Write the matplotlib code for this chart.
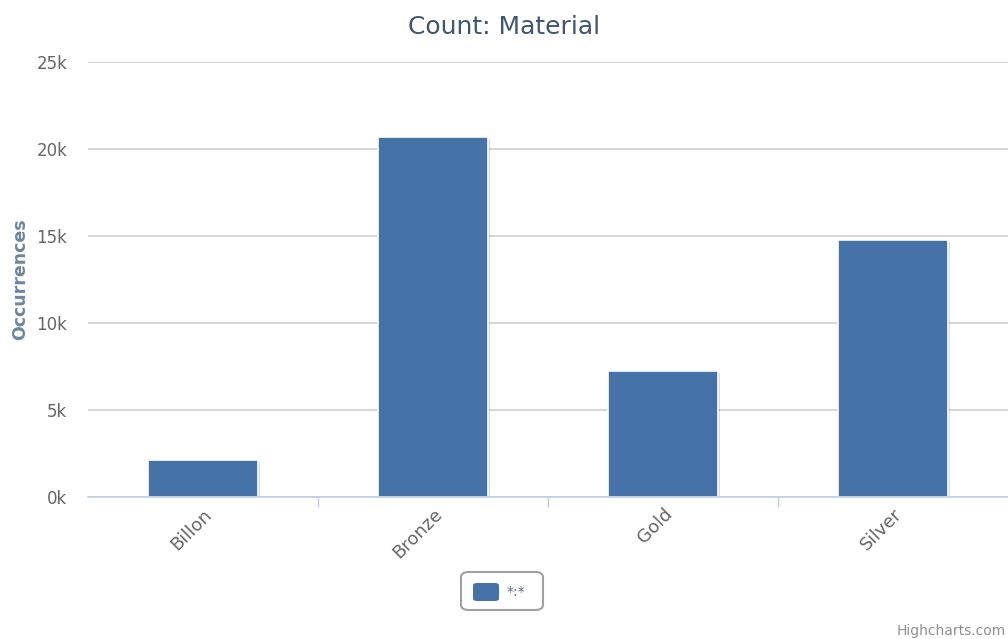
import matplotlib.pyplot as plt
import matplotlib.patheffects as pe
from matplotlib.patches import FancyBboxPatch
from matplotlib.ticker import FuncFormatter, FixedLocator

categories = ["Billon", "Bronze", "Gold", "Silver"]
counts = [2150, 20700, 7250, 14750]
series_name = "*:*"

fig = plt.figure(figsize=(10.08, 6.39), dpi=100)
ax = fig.add_axes([88 / 1008, 1 - 497 / 639, 920 / 1008, 435 / 639])

x = list(range(len(categories)))
bars = ax.bar(x, counts, width=0.48, color="#4572A7", edgecolor="white", linewidth=1.2, zorder=3)
for b in bars:
    b.set_path_effects([pe.SimplePatchShadow(offset=(1.5, -1.5), shadow_rgbFace="black", alpha=0.15), pe.Normal()])

ax.set_xlim(-0.5, len(categories) - 0.5)
ax.set_ylim(0, 25000)
ax.set_yticks(range(0, 25001, 5000))
ax.yaxis.set_major_formatter(FuncFormatter(lambda v, p: f"{int(v / 1000)}k"))
ax.grid(axis="y", color="#D0D0D0", linewidth=1.2, zorder=0)

for s in ["top", "right", "left"]:
    ax.spines[s].set_visible(False)
ax.spines["bottom"].set_color("#C0D0E0")
ax.spines["bottom"].set_linewidth(1.2)
ax.spines["bottom"].set_zorder(4)

ax.tick_params(axis="y", length=0, pad=15, labelsize=12, labelcolor="#666666")
ax.set_xticks(x)
ax.set_xticklabels(categories, rotation=45, ha="right", rotation_mode="anchor", fontsize=13, color="#666666")
ax.tick_params(axis="x", which="major", length=0, pad=6)
ax.xaxis.set_minor_locator(FixedLocator([0.5, 1.5, 2.5]))
ax.tick_params(axis="x", which="minor", length=7, color="#C0D0E0", width=1)

ax.set_ylabel("Occurrences", fontsize=12.5, fontweight="bold", color="#6D869F", labelpad=5)
fig.text(0.5, 1 - 27 / 639, "Count: Material", ha="center", va="center", fontsize=18, color="#3E576F")

# legend box
fig.patches.append(FancyBboxPatch((461 / 1008, 1 - 610 / 639), 82 / 1008, 38 / 639,
                                  boxstyle="round,pad=0,rounding_size=0.008", transform=fig.transFigure,
                                  facecolor="white", edgecolor="#A0A0A0", linewidth=1.5))
fig.patches.append(FancyBboxPatch((473 / 1008, 1 - 601 / 639), 26 / 1008, 18 / 639,
                                  boxstyle="round,pad=0,rounding_size=0.004", transform=fig.transFigure,
                                  facecolor="#4572A7", edgecolor="none"))
fig.text(507 / 1008, 1 - 592 / 639, series_name, ha="left", va="center", fontsize=10, color="#5A6F85")

fig.text(1006 / 1008, 1 - 631 / 639, "Highcharts.com", ha="right", va="center", fontsize=10, color="#909090")

plt.savefig("out.png", dpi=100)
